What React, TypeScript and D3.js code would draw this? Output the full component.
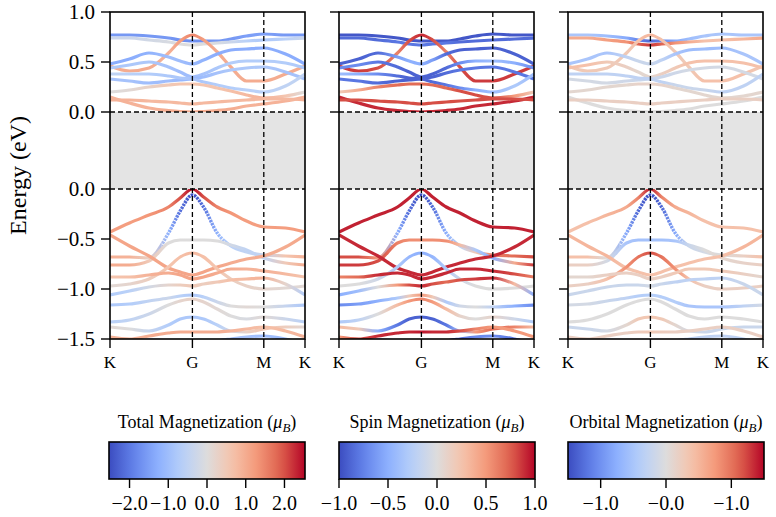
import * as d3 from 'd3';

// k-path nodes (fraction of K-G-M-K path length)
const kNodes = [0, 0.1, 0.2, 0.3, 0.36, 0.4226, 0.48, 0.55, 0.62, 0.7, 0.7887, 0.9, 1];
const kTickPos = [0, 0.4226, 0.7887, 1];
const kTickLabels = ['K', 'G', 'M', 'K'];
const gapE = 0.77;
const valenceTicks = [-1.5, -1.0, -0.5, 0.0];
const conductionTicks = [0.0, 0.5, 1.0];

// conduction bands, energy above CBM (eV)
const condE = [
  [0.77, 0.77, 0.76, 0.74, 0.72, 0.71, 0.71, 0.71, 0.73, 0.76, 0.78, 0.77, 0.77],
  [0.74, 0.74, 0.72, 0.7, 0.68, 0.67, 0.68, 0.69, 0.7, 0.71, 0.72, 0.73, 0.74],
  [0.46, 0.41, 0.44, 0.59, 0.71, 0.77, 0.72, 0.6, 0.45, 0.31, 0.31, 0.38, 0.46],
  [0.48, 0.53, 0.59, 0.55, 0.51, 0.48, 0.52, 0.58, 0.62, 0.63, 0.64, 0.58, 0.48],
  [0.44, 0.47, 0.5, 0.45, 0.4, 0.35, 0.38, 0.44, 0.49, 0.51, 0.51, 0.49, 0.44],
  [0.33, 0.31, 0.29, 0.31, 0.32, 0.33, 0.35, 0.39, 0.42, 0.44, 0.45, 0.4, 0.33],
  [0.38, 0.38, 0.38, 0.36, 0.34, 0.33, 0.3, 0.27, 0.24, 0.22, 0.2, 0.26, 0.38],
  [0.2, 0.22, 0.25, 0.27, 0.28, 0.28, 0.27, 0.24, 0.21, 0.17, 0.14, 0.16, 0.2],
  [0.15, 0.09, 0.04, 0.015, 0.005, 0.0, 0.005, 0.015, 0.03, 0.06, 0.08, 0.11, 0.15],
  [0.12, 0.12, 0.11, 0.1, 0.09, 0.08, 0.09, 0.1, 0.11, 0.12, 0.13, 0.13, 0.12],
];
const condTotal = [
  [-1.6, -1.6, -1.6, -1.6, -1.7, -1.7, -1.7, -1.6, -1.6, -1.5, -1.5, -1.6, -1.6],
  [-0.3, -0.3, -0.2, -0.1, 0.0, 0.0, 0.0, -0.1, -0.3, -0.6, -0.8, -0.6, -0.3],
  [1.0, 1.0, 1.0, 0.9, 1.2, 1.5, 1.2, 1.0, 1.0, 1.0, 1.0, 1.0, 1.0],
  [-1.3, -1.3, -1.2, -1.0, -1.0, -1.1, -1.2, -1.3, -1.3, -1.3, -1.3, -1.3, -1.3],
  [-0.8, -0.8, -0.8, -0.9, -1.0, -1.0, -0.9, -0.8, -0.7, -0.7, -0.7, -0.7, -0.8],
  [-0.9, -0.9, -1.0, -1.0, -1.1, -1.1, -1.0, -0.9, -0.8, -0.8, -0.8, -0.9, -0.9],
  [-0.5, -0.6, -0.7, -0.8, -0.8, -0.9, -0.8, -0.7, -0.7, -0.6, -0.6, -0.5, -0.5],
  [0.0, 0.1, 0.3, 0.5, 0.6, 0.6, 0.6, 0.6, 0.7, 0.8, 0.9, 0.6, 0.0],
  [0.9, 0.9, 0.9, 1.0, 1.0, 1.0, 1.0, 1.0, 1.0, 0.9, 0.9, 0.9, 0.9],
  [0.9, 0.9, 0.8, 0.8, 0.8, 0.8, 0.8, 0.8, 0.8, 0.8, 0.8, 0.8, 0.9],
];
const condSpin = [
  [-0.95, -0.95, -0.95, -0.95, -0.95, -0.95, -0.95, -0.95, -0.95, -0.95, -0.95, -0.95, -0.95],
  [-0.85, -0.85, -0.85, -0.8, -0.8, -0.8, -0.8, -0.8, -0.85, -0.85, -0.85, -0.85, -0.85],
  [0.85, 0.85, 0.8, 0.6, 0.8, 0.9, 0.8, 0.6, 0.8, 0.85, 0.85, 0.85, 0.85],
  [-0.9, -0.9, -0.85, -0.6, -0.5, -0.5, -0.6, -0.85, -0.9, -0.9, -0.9, -0.9, -0.9],
  [-0.7, -0.7, -0.8, -0.85, -0.9, -0.9, -0.9, -0.85, -0.7, -0.5, -0.4, -0.5, -0.7],
  [-0.8, -0.8, -0.85, -0.9, -0.9, -0.9, -0.9, -0.85, -0.8, -0.8, -0.8, -0.8, -0.8],
  [-0.4, -0.5, -0.7, -0.85, -0.9, -0.9, -0.85, -0.8, -0.7, -0.5, -0.4, -0.3, -0.4],
  [0.2, 0.4, 0.6, 0.7, 0.7, 0.7, 0.7, 0.7, 0.8, 0.8, 0.8, 0.5, 0.2],
  [0.9, 0.9, 0.9, 0.9, 0.9, 0.9, 0.9, 0.9, 0.9, 0.9, 0.9, 0.9, 0.9],
  [0.8, 0.8, 0.8, 0.8, 0.8, 0.8, 0.8, 0.8, 0.8, 0.8, 0.8, 0.8, 0.8],
];
const condOrbital = [
  [-0.5, -0.5, -0.6, -0.8, -1.1, -1.3, -1.1, -0.8, -0.6, -0.5, -0.5, -0.5, -0.5],
  [0.6, 0.6, 0.7, 0.8, 1.1, 1.3, 1.1, 0.8, 0.6, 0.4, 0.4, 0.5, 0.6],
  [0.3, 0.3, 0.3, 0.3, 0.4, 0.5, 0.4, 0.3, 0.3, 0.4, 0.4, 0.4, 0.3],
  [-0.5, -0.5, -0.5, -0.3, -0.2, -0.2, -0.3, -0.5, -0.6, -0.6, -0.6, -0.5, -0.5],
  [0.4, 0.4, 0.3, 0.2, 0.1, 0.1, 0.2, 0.3, 0.4, 0.4, 0.4, 0.4, 0.4],
  [-0.1, -0.1, -0.1, -0.15, -0.2, -0.2, -0.2, -0.15, -0.1, -0.1, -0.1, -0.1, -0.1],
  [-0.3, -0.3, -0.3, -0.3, -0.3, -0.3, -0.3, -0.2, -0.2, -0.2, -0.3, -0.3, -0.3],
  [0.1, 0.1, 0.1, 0.1, 0.15, 0.15, 0.15, 0.1, 0.1, 0.1, 0.1, 0.1, 0.1],
  [0.0, 0.0, 0.0, 0.0, 0.0, 0.0, 0.0, 0.0, 0.0, 0.0, 0.0, 0.0, 0.0],
  [0.2, 0.2, 0.2, 0.2, 0.2, 0.2, 0.2, 0.2, 0.2, 0.2, 0.2, 0.2, 0.2],
];

// valence bands, energy relative to VBM (eV)
const valE = [
  [-0.43, -0.34, -0.26, -0.18, -0.09, 0.0, -0.08, -0.18, -0.24, -0.32, -0.38, -0.39, -0.43],
  [-0.68, -0.68, -0.69, -0.44, -0.22, -0.06, -0.18, -0.44, -0.57, -0.63, -0.66, -0.67, -0.68],
  [-0.76, -0.76, -0.72, -0.54, -0.51, -0.51, -0.51, -0.52, -0.56, -0.61, -0.69, -0.74, -0.76],
  [-0.46, -0.57, -0.67, -0.79, -0.83, -0.86, -0.83, -0.78, -0.74, -0.7, -0.67, -0.58, -0.46],
  [-0.97, -0.95, -0.9, -0.78, -0.68, -0.64, -0.68, -0.8, -0.9, -0.97, -1.0, -0.99, -0.97],
  [-0.88, -0.88, -0.86, -0.84, -0.86, -0.9, -0.88, -0.84, -0.8, -0.8, -0.82, -0.85, -0.88],
  [-1.06, -1.02, -0.98, -0.96, -0.96, -0.97, -0.95, -0.93, -0.91, -0.9, -0.89, -0.95, -1.06],
  [-1.16, -1.15, -1.12, -1.09, -1.07, -1.06, -1.08, -1.13, -1.17, -1.18, -1.18, -1.17, -1.16],
  [-1.33, -1.31, -1.25, -1.16, -1.12, -1.1, -1.13, -1.2, -1.27, -1.3, -1.28, -1.3, -1.33],
  [-1.38, -1.4, -1.42, -1.36, -1.3, -1.28, -1.3, -1.36, -1.42, -1.43, -1.4, -1.38, -1.38],
  [-1.48, -1.5, -1.47, -1.44, -1.43, -1.43, -1.43, -1.43, -1.42, -1.4, -1.38, -1.42, -1.48],
  [-1.55, -1.53, -1.51, -1.52, -1.55, -1.57, -1.55, -1.52, -1.5, -1.48, -1.47, -1.5, -1.55],
];
const valTotal = [
  [1.2, 1.2, 1.3, 1.5, 2.0, 2.5, 2.0, 1.5, 1.3, 1.2, 1.2, 1.2, 1.2],
  [0.9, 0.9, 0.3, -1.2, -2.1, -2.5, -2.1, -1.2, -0.6, -0.5, -0.4, 0.6, 0.9],
  [1.0, 1.0, 0.5, 0.0, 0.0, 0.0, 0.0, 0.0, -0.2, -0.5, -0.5, 0.5, 1.0],
  [1.1, 1.1, 1.1, 1.1, 1.1, 1.1, 1.1, 1.1, 1.0, 1.0, 1.0, 1.0, 1.1],
  [0.1, 0.2, 0.4, 0.6, 0.7, 0.8, 0.7, 0.6, 0.4, 0.3, 0.2, 0.1, 0.1],
  [0.6, 0.7, 0.9, 1.0, 1.1, 1.1, 1.1, 1.0, 1.0, 0.9, 0.9, 0.8, 0.6],
  [-0.7, -0.6, -0.2, 0.2, 0.4, 0.5, 0.4, 0.5, 0.7, 0.8, 0.9, 0.2, -0.7],
  [-0.8, -0.7, -0.5, -0.3, -0.6, -0.8, -0.6, -0.3, 0.0, 0.1, 0.0, -0.4, -0.8],
  [-0.6, -0.5, -0.3, 0.0, 0.2, 0.3, 0.2, 0.1, 0.0, -0.1, 0.1, -0.3, -0.6],
  [0.1, 0.0, -0.4, -0.7, -0.8, -0.8, -0.8, -0.6, -0.3, 0.3, 0.6, 0.4, 0.1],
  [0.9, 0.9, 1.0, 1.0, 1.0, 1.0, 1.0, 1.0, 0.9, 0.8, 0.7, 0.8, 0.9],
  [-1.0, -1.0, -0.9, -0.9, -0.9, -0.9, -0.9, -0.9, -0.9, -0.9, -1.0, -1.0, -1.0],
];
const valSpin = [
  [0.92, 0.92, 0.92, 0.92, 0.92, 0.92, 0.92, 0.92, 0.92, 0.92, 0.92, 0.92, 0.92],
  [0.8, 0.8, 0.5, -0.5, -0.85, -1.0, -0.85, -0.5, -0.2, 0.2, 0.6, 0.7, 0.8],
  [0.85, 0.85, 0.8, 0.6, 0.55, 0.55, 0.55, 0.55, 0.3, -0.3, -0.5, 0.4, 0.85],
  [0.9, 0.9, 0.9, 0.9, 0.9, 0.9, 0.9, 0.9, 0.9, 0.9, 0.9, 0.9, 0.9],
  [0.0, 0.0, -0.1, -0.3, -0.45, -0.5, -0.45, -0.3, -0.1, 0.0, 0.0, 0.0, 0.0],
  [0.6, 0.7, 0.9, 0.9, 0.9, 0.9, 0.9, 0.9, 0.9, 0.9, 0.9, 0.8, 0.6],
  [-0.5, -0.4, 0.0, 0.5, 0.8, 0.9, 0.8, 0.7, 0.8, 0.85, 0.9, 0.3, -0.5],
  [-0.7, -0.6, -0.5, -0.3, 0.2, 0.5, 0.2, -0.3, -0.1, 0.0, -0.2, -0.5, -0.7],
  [-0.3, -0.2, 0.0, 0.3, 0.5, 0.6, 0.5, 0.3, 0.1, 0.0, 0.1, -0.1, -0.3],
  [0.3, 0.2, -0.5, -0.8, -0.9, -0.9, -0.9, -0.8, -0.4, 0.5, 0.7, 0.6, 0.3],
  [0.5, 0.8, 0.9, 0.9, 0.9, 0.95, 0.9, 0.9, 0.8, 0.6, 0.5, 0.5, 0.5],
  [-0.8, -0.8, -0.8, -0.8, -0.85, -0.85, -0.85, -0.8, -0.8, -0.7, -0.7, -0.8, -0.8],
];
const valOrbital = [
  [0.4, 0.4, 0.5, 0.6, 0.9, 1.4, 0.9, 0.6, 0.5, 0.4, 0.4, 0.4, 0.4],
  [0.4, 0.4, 0.0, -0.8, -1.3, -1.5, -1.3, -0.8, -0.2, -0.1, 0.0, 0.2, 0.4],
  [0.2, 0.2, -0.1, -0.5, -0.55, -0.55, -0.55, -0.5, -0.2, 0.0, 0.1, 0.15, 0.2],
  [0.5, 0.5, 0.5, 0.4, 0.4, 0.4, 0.4, 0.4, 0.4, 0.4, 0.4, 0.5, 0.5],
  [0.2, 0.2, 0.4, 0.8, 1.0, 1.2, 1.0, 0.8, 0.4, 0.2, 0.2, 0.2, 0.2],
  [0.1, 0.1, 0.2, 0.2, 0.2, 0.2, 0.2, 0.3, 0.3, 0.3, 0.3, 0.2, 0.1],
  [-0.2, -0.2, -0.2, -0.2, -0.2, -0.1, -0.2, -0.3, -0.3, -0.3, -0.3, -0.2, -0.2],
  [-0.1, -0.1, -0.2, -0.3, -0.4, -0.4, -0.4, -0.4, -0.5, -0.5, -0.5, -0.3, -0.1],
  [0.0, 0.0, 0.0, 0.0, 0.0, 0.0, 0.0, 0.0, 0.0, 0.0, 0.0, 0.0, 0.0],
  [-0.2, -0.2, -0.1, 0.1, 0.3, 0.35, 0.3, 0.1, -0.1, -0.2, -0.2, -0.2, -0.2],
  [0.2, 0.2, 0.2, 0.2, 0.25, 0.3, 0.25, 0.2, 0.2, 0.2, 0.2, 0.2, 0.2],
  [-0.3, -0.3, -0.3, -0.3, -0.3, -0.3, -0.3, -0.3, -0.3, -0.3, -0.3, -0.3, -0.3],
];

const cbTitles = ['Total Magnetization', 'Spin Magnetization', 'Orbital Magnetization'];
const cbRanges = [2.53, 1.0, 1.5];
const cbTickValues = [[-2, -1, 0, 1, 2], [-1, -0.5, 0, 0.5, 1], [-1, 0, 1]];
const cbTickLabels = [
  ['−2.0', '−1.0', '0.0', '1.0', '2.0'],
  ['−1.0', '−0.5', '0.0', '0.5', '1.0'],
  ['−1.0', '−0.0', '−1.0'],
];

const coolwarm = d3.piecewise(d3.interpolateRgb, [
  '#3b4cc0', '#6282ea', '#8db0fe', '#b8d0f9', '#dddcdc', '#f5c4ad', '#f49a7b', '#de604d', '#b40426',
]);

const panelLeft = [110, 339, 568];
const panelW = 195;
const top = 12;
const bottom = 339;
const font = 'Liberation Serif';

const y = d3.scaleLinear().domain([-1.5, gapE + 1.0]).range([bottom, top]);

function Panel({ p }: { p: number }) {
  const x = d3.scaleLinear().domain([0, 1]).range([panelLeft[p], panelLeft[p] + panelW]);
  const range = cbRanges[p];
  const condC = [condTotal, condSpin, condOrbital][p];
  const valC = [valTotal, valSpin, valOrbital][p];
  const color = (v: number) => coolwarm(Math.max(0, Math.min(1, (v + range) / (2 * range))));
  const line = (shift: number) =>
    d3
      .line<number>()
      .x((_, i) => x(kNodes[i]))
      .y((d) => y(d + shift))
      .curve(d3.curveMonotoneX);
  const bands = [
    ...condE.map((e, i) => ({ id: `c${p}-${i}`, d: line(gapE)(e) || '', c: condC[i], dotted: false })),
    ...valE.map((e, i) => ({ id: `v${p}-${i}`, d: line(0)(e) || '', c: valC[i], dotted: i === 1 })),
  ];
  const dotA = x(0.265);
  const dotB = x(0.59);
  return (
    <g>
      <defs>
        <clipPath id={`clip${p}`}>
          <rect x={x(0)} y={top} width={panelW} height={bottom - top} />
        </clipPath>
        <clipPath id={`dotIn${p}`}>
          <rect x={dotA} y={top} width={dotB - dotA} height={bottom - top} />
        </clipPath>
        <clipPath id={`dotOut${p}`}>
          <rect x={x(0)} y={top} width={dotA - x(0)} height={bottom - top} />
          <rect x={dotB} y={top} width={x(1) - dotB} height={bottom - top} />
        </clipPath>
        {bands.map((b) => (
          <linearGradient key={b.id} id={`g${b.id}`} gradientUnits="userSpaceOnUse" x1={x(0)} x2={x(1)} y1={0} y2={0}>
            {b.c.map((v, i) => (
              <stop key={i} offset={kNodes[i]} stopColor={color(v)} />
            ))}
          </linearGradient>
        ))}
      </defs>
      <g clipPath={`url(#clip${p})`}>
        {bands.map((b) =>
          b.dotted ? (
            <g key={b.id}>
              <path d={b.d} fill="none" stroke={`url(#g${b.id})`} strokeWidth={3.2} clipPath={`url(#dotOut${p})`} />
              <path
                d={b.d}
                fill="none"
                stroke={`url(#g${b.id})`}
                strokeWidth={3.4}
                strokeDasharray="2.4 0.9"
                clipPath={`url(#dotIn${p})`}
              />
            </g>
          ) : (
            <path key={b.id} d={b.d} fill="none" stroke={`url(#g${b.id})`} strokeWidth={3.2} />
          )
        )}
        <rect x={x(0)} y={y(gapE)} width={panelW} height={y(0) - y(gapE)} fill="#e4e4e4" />
        {[0, gapE].map((v) => (
          <line key={v} x1={x(0)} x2={x(1)} y1={y(v)} y2={y(v)} stroke="#000" strokeWidth={1.3} strokeDasharray="5 3" />
        ))}
        {[kTickPos[1], kTickPos[2]].map((k) => (
          <line key={k} x1={x(k)} x2={x(k)} y1={top} y2={bottom} stroke="#000" strokeWidth={1.3} strokeDasharray="5 3" />
        ))}
      </g>
      <rect x={x(0)} y={top} width={panelW} height={bottom - top} fill="none" stroke="#000" strokeWidth={1.6} />
      {[...valenceTicks, ...conductionTicks.map((v) => v + gapE)].map((v, i) => (
        <line key={i} x1={x(0) - 9} x2={x(0)} y1={y(v)} y2={y(v)} stroke="#000" strokeWidth={1.4} />
      ))}
      {p === 0 &&
        [...valenceTicks.map((v) => ({ v, t: v })), ...conductionTicks.map((v) => ({ v: v + gapE, t: v }))].map(
          (d, i) => (
            <text key={i} x={x(0) - 15} y={y(d.v) + 7} textAnchor="end" fontSize={21} fontFamily={font}>
              {d.t < 0 ? '−' + Math.abs(d.t).toFixed(1) : d.t.toFixed(1)}
            </text>
          )
        )}
      {kTickPos.map((k, i) => (
        <g key={i}>
          <line x1={x(k)} x2={x(k)} y1={bottom} y2={bottom + 9} stroke="#000" strokeWidth={1.4} />
          <text x={x(k)} y={bottom + 28.5} textAnchor="middle" fontSize={17} fontFamily={font}>
            {kTickLabels[i]}
          </text>
        </g>
      ))}
    </g>
  );
}

function Colorbar({ p }: { p: number }) {
  const range = cbRanges[p];
  const x0 = panelLeft[p] - (p === 0 ? 1 : 0);
  const w = panelW + 1;
  const cx = d3.scaleLinear().domain([-range, range]).range([x0, x0 + w]);
  const y0 = 442;
  const h = 37;
  const stops = d3.range(0, 1.0001, 0.05);
  return (
    <g>
      <defs>
        <linearGradient id={`cb${p}`} x1="0" x2="1" y1="0" y2="0">
          {stops.map((t) => (
            <stop key={t} offset={t} stopColor={coolwarm(t)} />
          ))}
        </linearGradient>
      </defs>
      <text x={x0 + w / 2} y={y0 - 14} textAnchor="middle" fontSize={18} fontFamily={font}>
        {cbTitles[p] + ' ('}
        <tspan fontStyle="italic">μ</tspan>
        <tspan fontStyle="italic" fontSize={13} dy={4}>
          B
        </tspan>
        <tspan dy={-4}>)</tspan>
      </text>
      <rect x={x0} y={y0} width={w} height={h} fill={`url(#cb${p})`} stroke="#000" strokeWidth={1.6} />
      {cbTickValues[p].map((v, i) => (
        <g key={i}>
          <line x1={cx(v)} x2={cx(v)} y1={y0 + h} y2={y0 + h + 9} stroke="#000" strokeWidth={1.4} />
          <text x={cx(v)} y={y0 + h + 31} textAnchor="middle" fontSize={20} fontFamily={font}>
            {cbTickLabels[p][i]}
          </text>
        </g>
      ))}
    </g>
  );
}

export default function App() {
  return (
    <svg
      width={776}
      height={517}
      style={{ position: 'absolute', left: 0, top: 0, background: '#fff' }}
      fontFamily={font}
    >
      <text
        transform={`translate(26, ${(top + bottom) / 2}) rotate(-90)`}
        textAnchor="middle"
        fontSize={24}
        fontFamily={font}
      >
        Energy (eV)
      </text>
      {[0, 1, 2].map((p) => (
        <Panel key={p} p={p} />
      ))}
      {[0, 1, 2].map((p) => (
        <Colorbar key={p} p={p} />
      ))}
    </svg>
  );
}
